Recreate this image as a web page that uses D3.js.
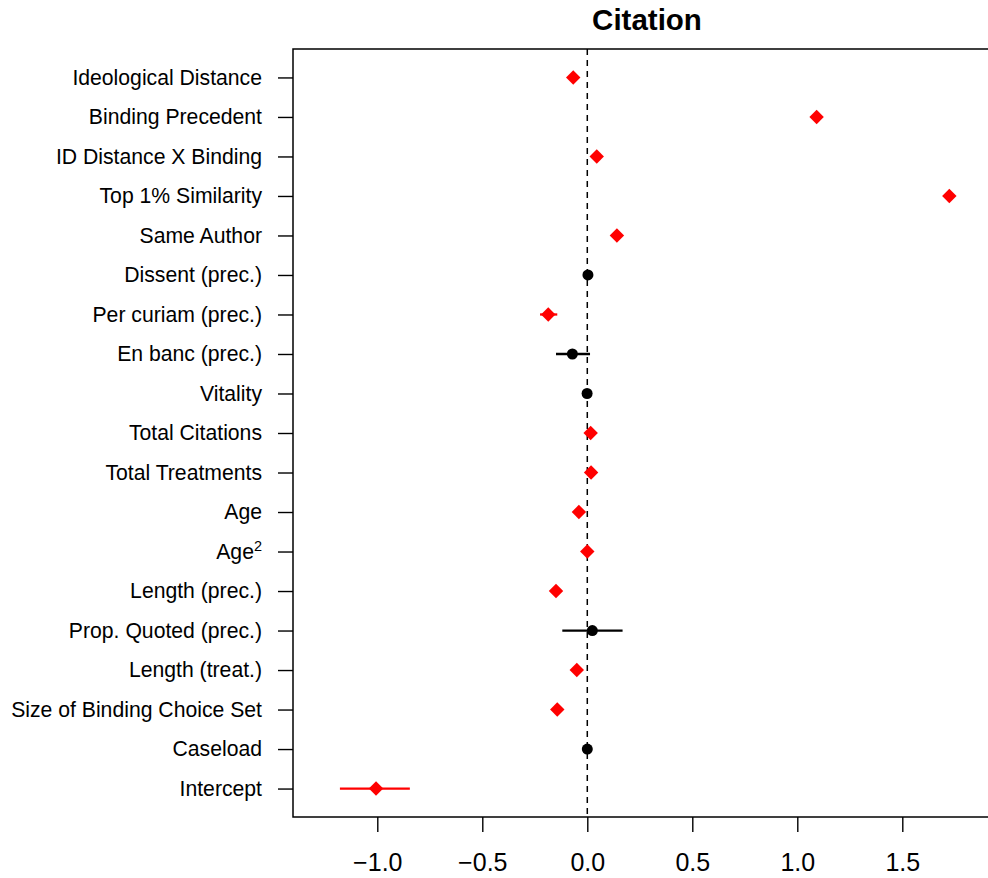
<!DOCTYPE html>
<html>
<head>
<meta charset="utf-8">
<script src="https://cdn.jsdelivr.net/npm/d3@7"></script>
<style>
  html, body { margin: 0; padding: 0; background: #fff; }
  svg { display: block; font-family: "Liberation Sans", Arial, Helvetica, sans-serif; }
</style>
</head>
<body>
<svg id="chart" width="988" height="878"></svg>
<script>
// ---- data ----
const labels = [
  "Ideological Distance", "Binding Precedent", "ID Distance X Binding", "Top 1% Similarity",
  "Same Author", "Dissent (prec.)", "Per curiam (prec.)", "En banc (prec.)", "Vitality",
  "Total Citations", "Total Treatments", "Age", "Age^2", "Length (prec.)",
  "Prop. Quoted (prec.)", "Length (treat.)", "Size of Binding Choice Set", "Caseload", "Intercept"
];
const estimates = [-0.067, 1.092, 0.045, 1.724, 0.141, 0.003, -0.186, -0.071, -0.001,
  0.016, 0.018, -0.040, 0.000, -0.149, 0.024, -0.050, -0.143, 0.000, -1.006];
const lower = [-0.075, 1.085, 0.030, 1.717, 0.134, -0.003, -0.225, -0.149, -0.004,
  0.010, 0.012, -0.046, -0.004, -0.156, -0.119, -0.056, -0.150, -0.003, -1.178];
const upper = [-0.059, 1.099, 0.060, 1.731, 0.148, 0.009, -0.143, 0.013, 0.002,
  0.022, 0.024, -0.034, 0.004, -0.142, 0.168, -0.044, -0.136, 0.003, -0.845];
const significant = [true, true, true, true, true, false, true, false, false,
  true, true, true, true, true, false, true, true, false, true];
const xTicks = [-1.0, -0.5, 0.0, 0.5, 1.0, 1.5];
const titleText = "Citation";

(function () {
// ---- layout ----
const svg = d3.select("#chart");
const pL = 293, pR = 1001, pT = 49, pB = 817;
const x = d3.scaleLinear().domain([-1.4014, 1.9700]).range([pL, pR]);
const y = d3.scaleLinear().domain([0.28, 19.72]).range([pT, pB]);
const rows = labels.map((l, i) => ({
  label: l, est: estimates[i], lo: lower[i], hi: upper[i], sig: significant[i], row: i + 1
}));

// title
svg.append("text")
  .attr("x", 647).attr("y", 30)
  .attr("text-anchor", "middle")
  .attr("font-weight", "bold")
  .attr("font-size", 29.5)
  .text(titleText);

// zero line
svg.append("line")
  .attr("x1", x(0)).attr("x2", x(0))
  .attr("y1", pT).attr("y2", pB)
  .attr("stroke", "#000").attr("stroke-width", 1.5)
  .attr("stroke-dasharray", "6,5");

// error bars
svg.append("g").selectAll("line").data(rows).join("line")
  .attr("x1", d => x(d.lo)).attr("x2", d => x(d.hi))
  .attr("y1", d => y(d.row)).attr("y2", d => y(d.row))
  .attr("stroke", d => d.sig ? "#ff0000" : "#000")
  .attr("stroke-width", 2.3);

// points
const diamond = d3.symbol().type(d3.symbolSquare).size(104);
svg.append("g").selectAll("path").data(rows.filter(d => d.sig)).join("path")
  .attr("d", diamond)
  .attr("transform", d => `translate(${x(d.est)},${y(d.row)}) rotate(45)`)
  .attr("fill", "#ff0000");
svg.append("g").selectAll("circle").data(rows.filter(d => !d.sig)).join("circle")
  .attr("cx", d => x(d.est)).attr("cy", d => y(d.row))
  .attr("r", 5.5)
  .attr("fill", "#000");

// x axis
const xAxis = d3.axisBottom(x).tickValues(xTicks).tickSize(15).tickPadding(21)
  .tickFormat(d => d3.format(".1f")(d).replace("-", "\u2212"));
const gx = svg.append("g").attr("transform", `translate(0,${pB})`).call(xAxis);
gx.select(".domain").remove();
gx.selectAll(".tick line").attr("stroke", "#000").attr("stroke-width", 1.4);
gx.selectAll(".tick text").attr("font-size", 25).attr("font-family", "Liberation Sans, Arial, sans-serif").attr("fill", "#000");

// y axis
const yAxis = d3.axisLeft(y).tickValues(rows.map(d => d.row)).tickSize(15).tickFormat(() => "");
const gy = svg.append("g").attr("transform", `translate(${pL},0)`).call(yAxis);
gy.select(".domain").remove();
gy.selectAll(".tick line").attr("stroke", "#000").attr("stroke-width", 1.4);
gy.selectAll(".tick text").remove();
const ylab = svg.append("g").selectAll("text").data(rows).join("text")
  .attr("x", pL - 15 - 16)
  .attr("y", d => y(d.row))
  .attr("dy", "0.35em")
  .attr("text-anchor", "end")
  .attr("font-size", 21.2)
  .attr("fill", "#000");
ylab.each(function (d) {
  const t = d3.select(this);
  if (d.label.endsWith("^2")) {
    t.append("tspan").text(d.label.slice(0, -2));
    t.append("tspan").attr("dy", "-0.55em").attr("font-size", 14.5).text("2");
  } else {
    t.text(d.label);
  }
});

// box
svg.append("rect")
  .attr("x", pL).attr("y", pT)
  .attr("width", pR - pL).attr("height", pB - pT)
  .attr("fill", "none").attr("stroke", "#000").attr("stroke-width", 1.5);
})();
</script>
</body>
</html>
